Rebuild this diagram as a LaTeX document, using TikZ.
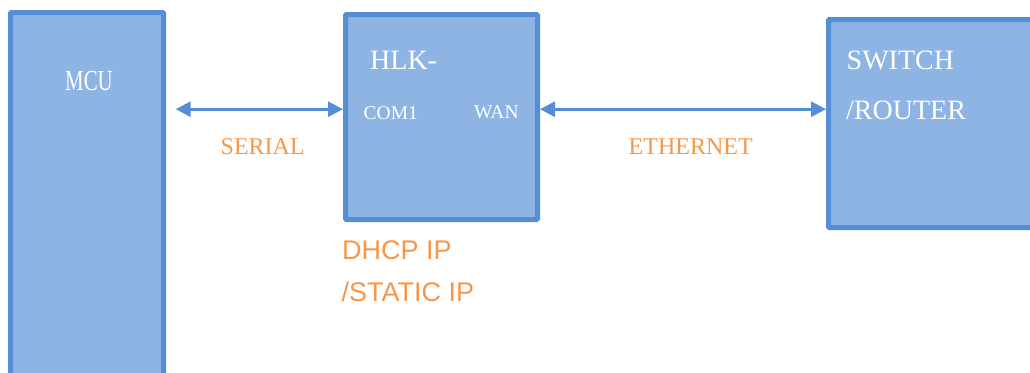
\documentclass[tikz,border=0pt]{standalone}
\usepackage{fontspec}
\setmainfont{Liberation Serif}
\newfontfamily\sansfont{Liberation Sans}
\newfontfamily\condfont[FakeStretch=0.72]{Liberation Serif}
\usetikzlibrary{arrows.meta}
\definecolor{boxfill}{HTML}{8EB4E3}
\definecolor{boxline}{HTML}{558ED5}
\definecolor{linkorange}{HTML}{F79646}
\begin{document}
\begin{tikzpicture}[x=1pt,y=-1pt,
  blk/.style={draw=boxline, fill=boxfill, line width=5pt, rounded corners=1pt, inner sep=0pt},
  txt/.style={white, inner sep=0pt, anchor=base west},
  lbl/.style={linkorange, inner sep=0pt, anchor=base west},
  link/.style={draw=boxline, line width=2.7pt, {Triangle[length=15pt,width=15pt]}-{Triangle[length=15pt,width=15pt]}}]
\useasboundingbox (0,0) rectangle (1030,372);
\clip (0,0) rectangle (1030,372);
\node[blk, minimum width=153pt, minimum height=387.5pt] (mcu) at (87,206.25){};
\node[blk, minimum width=192pt, minimum height=205pt] (hlk) at (441.5,117){};
\node[blk, minimum width=216.5pt, minimum height=208pt] (sw) at (936.75,123.5){};
\node[txt, font=\condfont\fontsize{29}{30}\selectfont] (tmcu) at (65,90.7){MCU};
\node[txt, font=\fontsize{28}{30}\selectfont] (thlk) at (370,69.5){HLK-};
\node[txt, font=\fontsize{19.5}{22}\selectfont] (tcom) at (363.5,119){COM1};
\node[txt, font=\fontsize{19.5}{22}\selectfont] (twan) at (474,118.3){WAN};
\node[txt, font=\fontsize{28}{30}\selectfont] (tsw) at (846.5,69){SWITCH};
\node[txt, font=\fontsize{28}{30}\selectfont] (trt) at (846,119.3){/ROUTER};
\node[lbl, font=\fontsize{24}{26}\selectfont] (tser) at (220.5,154){SERIAL};
\node[lbl, font=\fontsize{24}{26}\selectfont] (teth) at (628.5,154){ETHERNET};
\node[lbl, font=\sansfont\fontsize{27}{30}\selectfont] (tdhcp) at (342,259.3){DHCP IP};
\node[lbl, font=\sansfont\fontsize{27}{30}\selectfont] (tstat) at (341.5,301.7){/STATIC IP};
\coordinate (serEnd) at (175.7,109.2);
\draw[link] (serEnd) -- (hlk.west |- serEnd);
\draw[link] (hlk.east |- serEnd) -- (sw.west |- serEnd);
\end{tikzpicture}
\end{document}
